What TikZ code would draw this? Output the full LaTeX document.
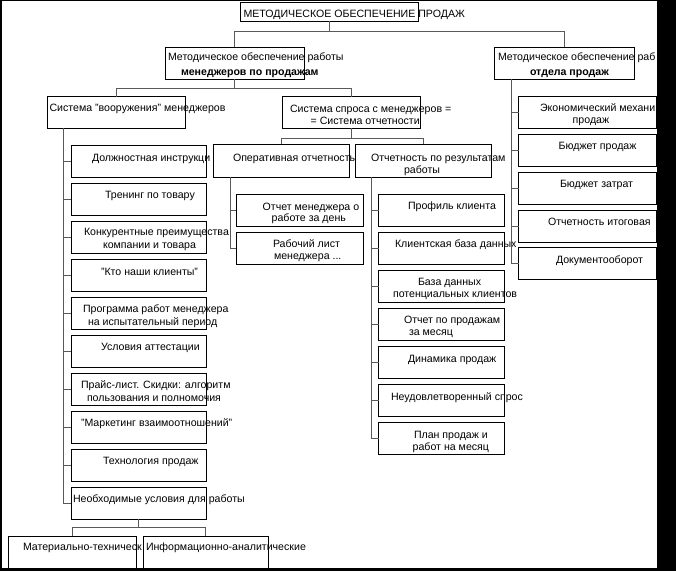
\documentclass[tikz,border=0pt]{standalone}
\usepackage{fontspec}
\setmainfont{Liberation Sans}
\newcommand{\mybox}[5]{\node[box, minimum width=#4pt, minimum height=#5pt] (#1) at (#2,#3) {};}
\begin{document}
\begin{tikzpicture}[x=1pt,y=-1pt,
  box/.style={draw=black, fill=white, line width=0.9pt, inner sep=0pt, outer sep=0pt, anchor=north west},
  txt/.style={anchor=base west, inner sep=0pt, outer sep=0pt, font=\fontsize{10.6}{12}\selectfont},
  btxt/.style={anchor=base west, inner sep=0pt, outer sep=0pt, font=\fontsize{10.6}{12}\selectfont\bfseries},
  conn/.style={draw=black!65, line width=1pt}]
\useasboundingbox (0,0) rectangle (676,571);
\fill[white] (0,0) rectangle (676,571);

% ---- boxes (positions) ----
\mybox{top}{240.5}{2.7}{177.5}{18.3}
\mybox{l1a}{165}{47.3}{139}{32}
\mybox{l1b}{494}{47.3}{140}{32}
\mybox{l2a}{47.7}{96.7}{137.3}{31.7}
\node[txt] (ttop) at (243.5,17.8) {МЕТОДИЧЕСКОЕ ОБЕСПЕЧЕНИЕ ПРОДАЖ};
\node[txt] (tl1a1) at (168,60.2) {Методическое обеспечение работы};
\node[btxt] (tl1a2) at (181,75.8) {менеджеров по продажам};
\node[txt] (tl1b1) at (498,60.2) {Методическое обеспечение раб};
\node[btxt] (tl1b2) at (530,75.8) {отдела продаж};
\node[txt] (tl2a) at (49.5,111.8) {Система "вооружения" менеджеров};

% left column
\mybox{c1}{71}{145}{135}{32}
\node[txt] (tc1) at (92,161) {Должностная инструкци};
\mybox{c2}{71}{183}{135}{32}
\node[txt] (tc2) at (105,198.5) {Тренинг по товару};
\mybox{c3}{71}{221}{135}{32}
\node[txt] (tc3a) at (84,235.5) {Конкурентные преимущества};
\node[txt] (tc3b) at (103,248.5) {компании и товара};
\mybox{c4}{71}{259}{135}{32}
\node[txt] (tc4) at (101,275) {"Кто наши клиенты"};
\mybox{c5}{71}{297}{135}{32}
\node[txt] (tc5a) at (83,312) {Программа работ менеджера};
\node[txt] (tc5b) at (88,325.5) {на испытательный период};
\mybox{c6}{71}{335}{135}{32}
\node[txt] (tc6) at (101,350) {Условия аттестации};
\mybox{c7}{71}{373}{135}{32}
\node[txt] (tc7a) at (81,388) {Прайс-лист. Скидки: алгоритм};
\node[txt] (tc7b) at (87,401) {пользования и полномочия};
\mybox{c8}{71}{411}{135}{32}
\node[txt] (tc8) at (81,426) {"Маркетинг взаимоотношений"};
\mybox{c9}{71}{449}{135}{32}
\node[txt] (tc9) at (103,464) {Технология продаж};
\mybox{c10}{71}{487}{135}{32}
\node[txt] (tc10) at (73,502) {Необходимые условия для работы};

\mybox{b1}{8}{536}{128}{34}
\node[txt] (tb1) at (23,550.5) {Материально-техническ};
\mybox{b2}{143}{536}{125}{34}
\node[txt] (tb2) at (146,550.5) {Информационно-аналитические};

% middle
\mybox{l2b}{282}{96.7}{138.7}{31.7}
\node[txt] (tl2b1) at (290,112.5) {Система спроса с менеджеров =};
\node[txt] (tl2b2) at (310.7,124.5) {= Система отчетности};
\mybox{op}{213}{144}{136}{33}
\node[txt] (top1) at (233,161.5) {Оперативная отчетность};
\mybox{o1}{236}{194}{127}{32}
\node[txt] (to1a) at (262.7,210.2) {Отчет менеджера о};
\node[txt] (to1b) at (271.7,221.8) {работе за день};
\mybox{o2}{236}{232}{127}{32}
\node[txt] (to2a) at (273,247.5) {Рабочий лист};
\node[txt] (to2b) at (274,259.2) {менеджера ...};

\mybox{rs}{355}{144}{136}{33}
\node[txt] (trs1) at (371,161.5) {Отчетность по результатам};
\node[txt] (trs2) at (404,173.5) {работы};
\mybox{r1}{378.7}{194}{125.6}{32}
\node[txt] (tr1) at (408,209.5) {Профиль клиента};
\mybox{r2}{378.7}{232}{125.6}{32}
\node[txt] (tr2) at (395,247.5) {Клиентская база данных};
\mybox{r3}{378.7}{270}{125.6}{32}
\node[txt] (tr3a) at (418,285.2) {База данных};
\node[txt] (tr3b) at (393,297.5) {потенциальных клиентов};
\mybox{r4}{378.7}{308.7}{125.6}{32}
\node[txt] (tr4a) at (404,323.5) {Отчет по продажам};
\node[txt] (tr4b) at (409,335.5) {за месяц};
\mybox{r5}{378.7}{346.7}{125.6}{32}
\node[txt] (tr5) at (408,362.5) {Динамика продаж};
\mybox{r6}{378.7}{384.7}{125.6}{32}
\node[txt] (tr6) at (391,400.2) {Неудовлетворенный спрос};
\mybox{r7}{378.7}{422}{125.6}{32}
\node[txt] (tr7a) at (414,438.5) {План продаж и};
\node[txt] (tr7b) at (412.7,450.2) {работ на месяц};

% right column
\mybox{e1}{518.7}{96.7}{138}{32}
\node[txt] (te1a) at (540,111.5) {Экономический механи};
\node[txt] (te1b) at (572.7,123.5) {продаж};
\mybox{e2}{518.7}{134.7}{138}{32}
\node[txt] (te2) at (558.7,149.2) {Бюджет продаж};
\mybox{e3}{518.7}{172.7}{138}{32}
\node[txt] (te3) at (560,187.5) {Бюджет затрат};
\mybox{e4}{518.7}{210.7}{138}{32}
\node[txt] (te4) at (548,225.2) {Отчетность итоговая};
\mybox{e5}{518.7}{247.3}{138}{32}
\node[txt] (te5) at (556,263.5) {Документооборот};

% ---- connectors ----
\draw[conn] (top.south) -- ++(0,10) -| (l1a.north);
\draw[conn] (top.south) ++(0,10) -| (l1b.north);
\draw[conn] (l1a.south) -- ++(0,9) -| (l2a.north);
\draw[conn] (l1a.south) ++(0,9) -| (l2b.north);
\draw[conn] (l2b.south) -- ++(0,9.6) -| (op.north);
\draw[conn] (l2b.south) ++(0,9.6) -| (rs.north);
\draw[conn] (c10.south) -- ++(0,8) -| (b1.north);
\draw[conn] (c10.south) ++(0,8) -| (b2.north);
\foreach \c in {c1,c2,c3,c4,c5,c6,c7,c8,c9,c10}
  \draw[conn] ([xshift=15.6pt]l2a.south west) |- (\c.west);
\foreach \c in {o1,o2}
  \draw[conn] ([xshift=17pt]op.south west) |- (\c.west);
\foreach \c in {r1,r2,r3,r4,r5,r6,r7}
  \draw[conn] ([xshift=16.7pt]rs.south west) |- (\c.west);
\foreach \c in {e1,e2,e3,e4,e5}
  \draw[conn] ([xshift=17.7pt]l1b.south west) |- (\c.west);

% ---- frame ----
\fill[black] (0,0) rectangle (676,1);
\fill[black] (0,0) rectangle (2,571);
\fill[black] (0,568) rectangle (676,571);
\fill[black] (657,0) rectangle (676,571);
\end{tikzpicture}
\end{document}
